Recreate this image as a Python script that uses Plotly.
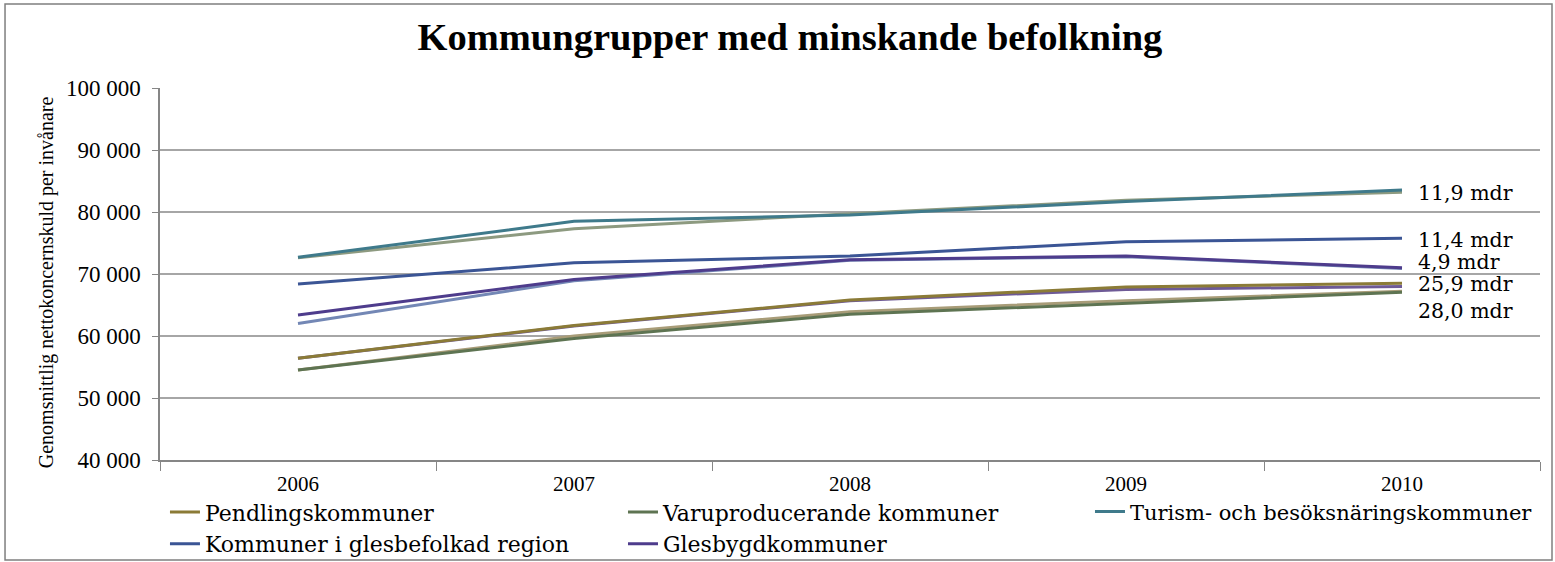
import plotly.graph_objects as go

years = ["2006", "2007", "2008", "2009", "2010"]

# Legend series
pendling = [56400, 61700, 65800, 67900, 68500]
varuproducerande = [54500, 59600, 63500, 65300, 67050]
turism = [72700, 78500, 79500, 81700, 83550]
glesbefolkad = [68400, 71800, 72900, 75200, 75750]
glesbygd = [63400, 69100, 72300, 72900, 71000]

# Companion series (no legend entry)
turism_b = [72600, 77300, 79700, 81900, 83200]
glesbygd_b = [62000, 68900, 72200, 72800, 70900]
pendling_b = [56400, 61600, 65700, 67500, 68000]
varu_b = [54500, 60000, 63900, 65700, 67200]

end_labels = ["11,9 mdr", "11,4 mdr", "4,9 mdr", "25,9 mdr", "28,0 mdr"]
end_label_y = [83065, 75484, 71935, 68387, 64032]

SERIF = "Liberation Serif"
WIDE = "DejaVu Serif"

fig = go.Figure()

def add(y, color, name=None, show=False, legend="legend"):
    fig.add_trace(go.Scatter(
        x=years, y=y, mode="lines", name=name if name else "",
        line=dict(color=color, width=3), showlegend=show, legend=legend,
    ))

# companions first (drawn beneath)
add(turism_b, "#8D9A80")
add(glesbygd_b, "#7387B5")
add(pendling_b, "#6E5A96")
add(varu_b, "#A89C78")

add(pendling, "#8B7B37", "Pendlingskommuner", True, "legend")
add(varuproducerande, "#5E7452", "Varuproducerande kommuner", True, "legend2")
add(turism, "#3F7A8B", "Turism- och besöksnäringskommuner", True, "legend3")
add(glesbefolkad, "#3B5595", "Kommuner i glesbefolkad region", True, "legend")
add(glesbygd, "#4E3C8C", "Glesbygdkommuner", True, "legend2")

last_idx = len(years) - 1
for t, yy in zip(end_labels, end_label_y):
    fig.add_annotation(x=last_idx, y=yy, xref="x", yref="y", text=t,
                       showarrow=False, xanchor="left", yanchor="middle",
                       xshift=14, font=dict(family=WIDE, size=20.5, color="#000000"))

# y axis title as rotated annotation
fig.add_annotation(x=-0.0826, y=0.478, xref="paper", yref="paper",
                   text="Genomsnittlig nettokoncernskuld per invånare",
                   textangle=-90, showarrow=False, xanchor="center", yanchor="middle",
                   font=dict(family=SERIF, size=20, color="#000000"))

# outer frame
fig.add_shape(type="rect", xref="paper", yref="paper",
              x0=-0.1123, x1=1.0087, y0=-0.2688, y1=1.2258,
              line=dict(color="#7F7F7F", width=1.5), layer="below")

def legend_cfg(x, size):
    return dict(orientation="v", yanchor="top", xanchor="left", x=x, y=-0.0842,
                font=dict(family=WIDE, size=size, color="#000000"),
                itemwidth=30, bgcolor="rgba(0,0,0,0)", tracegroupgap=0)

fig.update_layout(
    width=1555, height=562,
    margin=dict(l=160, r=15, t=88, b=102, autoexpand=False),
    paper_bgcolor="white", plot_bgcolor="white",
    separators=", ",
    title=dict(text="<b>Kommungrupper med minskande befolkning</b>",
               x=0.508, xref="container", xanchor="center",
               y=1 - 37 / 562, yref="container", yanchor="middle",
               font=dict(family=SERIF, size=38.5, color="#000000")),
    xaxis=dict(type="category", tickson="boundaries", ticks="outside",
               ticklen=9, tickcolor="#868686", showgrid=False,
               showline=True, linecolor="#868686", linewidth=1.5,
               ticklabelstandoff=4,
               tickfont=dict(family=SERIF, size=21, color="#000000"),
               range=[-0.5, 4.5]),
    yaxis=dict(range=[40000, 100000], dtick=10000, tickformat=",d",
               showgrid=True, gridcolor="#A6A6A6", gridwidth=1.5,
               showline=True, linecolor="#868686", linewidth=1.5,
               ticks="outside", ticklen=6, tickcolor="#868686",
               zeroline=False, ticklabelstandoff=7,
               tickfont=dict(family=SERIF, size=23, color="#000000")),
    legend=legend_cfg(0.0036, 22),
    legend2=legend_cfg(0.3355, 22),
    legend3=legend_cfg(0.6739, 21),
)

fig.write_html("out.html", config={"displayModeBar": False},
               post_script="document.body.style.margin='0';document.body.style.padding='0';")
